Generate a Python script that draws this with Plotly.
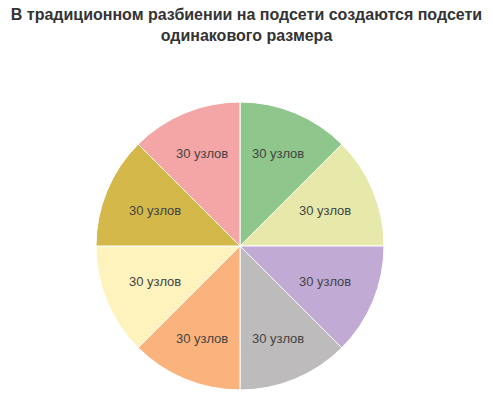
import math
import plotly.graph_objects as go

labels = ["A", "B", "C", "D", "E", "F", "G", "H"]
values = [30, 30, 30, 30, 30, 30, 30, 30]
texts = ["30 узлов"] * 8
colors = ["#8fc68b", "#e6e9a9", "#c1aad4", "#bdbbbb", "#fbb37e", "#fef2bd", "#d4b84a", "#f4a5a6"]

W, H = 493, 404
M = dict(l=0, r=13, t=102, b=14)
pw, ph = W - M["l"] - M["r"], H - M["t"] - M["b"]
R = min(pw, ph) / 2

fig = go.Figure(go.Pie(
    labels=labels, values=values,
    textinfo="none",
    sort=False, direction="clockwise", rotation=0,
    marker=dict(colors=colors, line=dict(color="white", width=1)),
    hoverinfo="skip", showlegend=False,
))

# slice labels: box centred on each slice bisector, outer corner at 0.82 R
tw, th = 52, 13
total = sum(values)
cum = 0
for v, t in zip(values, texts):
    a = 2 * math.pi * (cum + v / 2) / total
    cum += v
    ux, uy = math.sin(a), math.cos(a)
    cx, cy = tw / 2, th / 2
    b = abs(ux) * cx + abs(uy) * cy
    d = 0.82 * R
    tt = -b + math.sqrt(b * b - (cx * cx + cy * cy) + d * d)
    fig.add_annotation(
        x=0.5 + tt * ux / pw, y=0.5 + tt * uy / ph, xref="paper", yref="paper",
        text=t, showarrow=False, xanchor="center", yanchor="middle",
        font=dict(family="Liberation Sans, Arial, sans-serif", size=13, color="#444444"),
    )

fig.update_layout(
    width=W, height=H,
    margin=M,
    paper_bgcolor="white",
    title=dict(
        text="<b>В традиционном разбиении на подсети создаются подсети<br>одинакового размера</b>",
        x=0.5, xanchor="center", y=0.95, yanchor="top",
        font=dict(family="Liberation Sans, Arial, sans-serif", size=16, color="#333333"),
    ),
)
fig.write_html("out.html")
